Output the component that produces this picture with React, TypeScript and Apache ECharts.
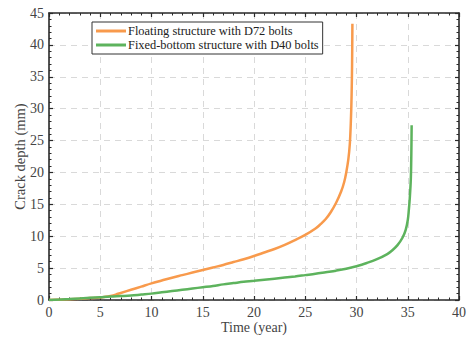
import React, { useEffect, useRef } from "react";
import * as echarts from "echarts";

const floatingX = [0, 1, 2, 3, 4, 5, 5.5, 6, 6.5, 7, 8, 9, 10, 11, 12, 13, 14, 15, 16, 17, 18, 19, 20, 21, 22, 23, 24, 25, 26, 26.5, 27, 27.5, 28, 28.5, 28.8, 29, 29.2, 29.35, 29.45, 29.52, 29.57, 29.6];
const floatingY = [0, 0.05, 0.12, 0.2, 0.3, 0.4, 0.5, 0.65, 0.85, 1.1, 1.6, 2.1, 2.6, 3.05, 3.5, 3.9, 4.3, 4.7, 5.1, 5.5, 5.95, 6.4, 6.9, 7.45, 8.0, 8.65, 9.4, 10.2, 11.2, 11.9, 12.7, 13.8, 15.2, 17.0, 18.5, 20.0, 22.0, 24.5, 28, 32, 37, 43.3];

const fixedX = [0, 2, 4, 5, 6, 7, 8, 9, 10, 11, 12, 13, 14, 15, 16, 17, 18, 19, 20, 22, 24, 25, 26, 27, 28, 29, 30, 31, 32, 33, 33.5, 34, 34.5, 34.8, 35, 35.1, 35.2, 35.3, 35.35, 35.38];
const fixedY = [0, 0.15, 0.35, 0.45, 0.55, 0.62, 0.7, 0.85, 1.0, 1.2, 1.4, 1.6, 1.8, 2.0, 2.2, 2.45, 2.65, 2.85, 3.0, 3.35, 3.7, 3.9, 4.1, 4.35, 4.6, 4.9, 5.3, 5.8, 6.4, 7.2, 7.8, 8.6, 9.8, 11, 12.5, 14, 16, 19, 23, 27.4];

const seriesNames = ["Floating structure with D72 bolts", "Fixed-bottom structure with D40 bolts"];
const xAxisName = "Time (year)";
const yAxisName = "Crack depth (mm)";

const SERIF = "'Times New Roman', 'Liberation Serif', serif";

export default function App() {
  const ref = useRef<HTMLDivElement>(null);
  useEffect(() => {
    if (!ref.current) return;
    const chart = echarts.init(ref.current, undefined, { renderer: "svg" });
    const axisCommon = (show: boolean) => ({
      min: 0,
      interval: 5,
      axisLine: { show: true, onZero: false, lineStyle: { color: "#2a2a2a", width: 1.6 } },
      axisTick: { show: true, inside: true, length: 4, lineStyle: { color: "#2a2a2a", width: 1.2 } },
      minorTick: { show: true, splitNumber: 5, length: 2.5, lineStyle: { color: "#2a2a2a", width: 1 } },
      axisLabel: { show, color: "#444", fontFamily: SERIF, fontSize: 14 },
    });
    chart.setOption({
      animation: false,
      backgroundColor: "#fff",
      grid: { left: 49, right: 9, top: 13, bottom: 37, containLabel: false, outerBoundsMode: "none" },
      legend: {
        show: true,
        orient: "vertical",
        left: 92,
        top: 22,
        backgroundColor: "#fff",
        borderColor: "#333",
        borderWidth: 1,
        padding: [3, 4, 3, 4],
        itemGap: 2,
        itemWidth: 30,
        itemHeight: 3,
        icon: "rect",
        textStyle: { fontFamily: SERIF, fontSize: 12.4, color: "#222", padding: [0, 0, 0, -3] },
        data: seriesNames,
      },
      xAxis: [
        {
          type: "value",
          position: "bottom",
          max: 40,
          ...axisCommon(true),
          name: xAxisName,
          nameLocation: "middle",
          nameGap: 20,
          nameMoveOverlap: false,
          nameTextStyle: { color: "#444", fontFamily: SERIF, fontSize: 14 },
          axisLabel: { show: true, color: "#444", fontFamily: SERIF, fontSize: 14, margin: 5 },
          splitLine: { show: true, lineStyle: { color: "#d9d9d9", type: [6, 5], width: 1 } },
        },
        {
          type: "value",
          position: "top",
          max: 40,
          ...axisCommon(false),
          splitLine: { show: false },
        },
      ],
      yAxis: [
        {
          type: "value",
          position: "left",
          max: 45,
          ...axisCommon(true),
          name: yAxisName,
          nameLocation: "middle",
          nameGap: 22,
          nameMoveOverlap: false,
          nameTextStyle: { color: "#444", fontFamily: SERIF, fontSize: 14.5 },
          axisLabel: { show: true, color: "#444", fontFamily: SERIF, fontSize: 14, margin: 5 },
          splitLine: { show: true, lineStyle: { color: "#d9d9d9", type: [6, 5], width: 1 } },
        },
        {
          type: "value",
          position: "right",
          max: 45,
          ...axisCommon(false),
          splitLine: { show: false },
        },
      ],
      series: [
        {
          name: seriesNames[0],
          type: "line",
          smooth: 0.35,
          showSymbol: false,
          lineStyle: { color: "#f89a4c", width: 2.5 },
          itemStyle: { color: "#f89a4c" },
          data: floatingX.map((x, i) => [x, floatingY[i]]),
          z: 3,
        },
        {
          name: seriesNames[1],
          type: "line",
          smooth: 0.35,
          showSymbol: false,
          lineStyle: { color: "#5db35d", width: 2.5 },
          itemStyle: { color: "#5db35d" },
          data: fixedX.map((x, i) => [x, fixedY[i]]),
          z: 4,
        },
      ],
    });
    return () => chart.dispose();
  }, []);
  return <div ref={ref} style={{ position: "fixed", left: 0, top: 0, width: 468, height: 337 }} />;
}
